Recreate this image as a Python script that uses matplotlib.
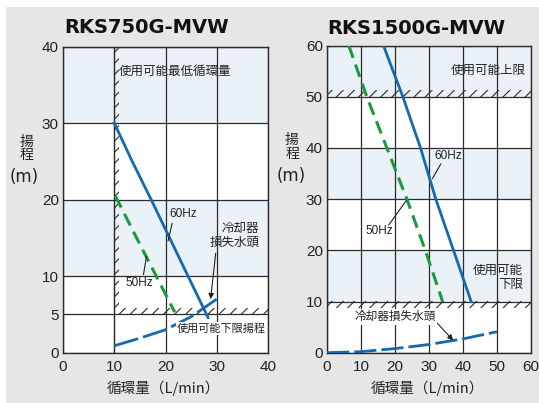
import matplotlib
matplotlib.use('Agg')
import matplotlib.pyplot as plt
from matplotlib.patches import Rectangle

W, H = 539, 403
plt.rcParams['font.family'] = ['Liberation Sans', 'Noto Sans CJK JP']
plt.rcParams['hatch.linewidth'] = 0.8

# ---------------- data ----------------
left_title = "RKS750G-MVW"
right_title = "RKS1500G-MVW"

l_flow_60 = [10, 13.5, 17.2, 20.8, 24.4, 28.3]
l_head_60 = [30, 25, 20, 15, 10, 4.6]
l_flow_50 = [10.2, 14.2, 18.2, 21.8]
l_head_50 = [20.5, 15.2, 10, 5.3]
l_flow_loss = [10, 15, 20, 25, 30]
l_head_loss = [0.9, 1.9, 3.0, 4.7, 7.0]
l_xticks = [0, 10, 20, 30, 40]
l_yticks = [0, 5, 10, 20, 30, 40]
l_bands = [(10, 20), (30, 40)]
l_min_flow = 10
l_min_head = 5

r_flow_60 = [16.6, 22.3, 27.5, 32.0, 37.2, 42.4]
r_head_60 = [60, 50, 40, 30, 20, 10]
r_flow_50 = [6.4, 11.7, 17.6, 23.5, 28.9, 34.0]
r_head_50 = [60, 50, 40, 30, 20, 10]
r_flow_loss = [0, 10, 20, 30, 40, 50]
r_head_loss = [0, 0.2, 0.8, 1.6, 2.7, 4.1]
r_xticks = [0, 10, 20, 30, 40, 50, 60]
r_yticks = [0, 10, 20, 30, 40, 50, 60]
r_bands = [(10, 20), (30, 40), (50, 60)]
r_max_head = 50
r_min_head = 10

xlabel = "循環量（L/min）"
ylabel_chars = ["揚", "程"]
ylabel_unit = "(m)"

BLUE = '#1569b0'
GREEN = '#1a9a3f'
BAND = '#eaf2f7'
BG = '#e6e6e6'
DARK = '#2b2b2b'
CJK = ['Noto Sans CJK JP', 'DejaVu Sans']

def fx(px):
    return px / W

def fy(py):
    return 1 - py / H

fig = plt.figure(figsize=(W / 100, H / 100), dpi=100)
fig.patch.set_facecolor('white')
fig.patches.append(Rectangle((fx(6), 0), 1, fy(7), transform=fig.transFigure,
                             facecolor=BG, edgecolor='none', zorder=-10))

def make_axes(l, t, r, b):
    return fig.add_axes([fx(l), fy(b), fx(r) - fx(l), fy(t) - fy(b)])

axL = make_axes(63, 46.5, 268, 352.7)
axR = make_axes(327, 45.5, 531, 352.7)

def style(ax, xt, yt, bands):
    ax.set_facecolor('white')
    ax.set_xlim(xt[0], xt[-1])
    ax.set_ylim(yt[0], yt[-1])
    ax.set_xticks(xt)
    ax.set_yticks(yt)
    for b0, b1 in bands:
        ax.axhspan(b0, b1, color=BAND, zorder=0, lw=0)
    ax.grid(True, color=DARK, lw=0.9, zorder=1)
    ax.set_axisbelow(True)
    ax.tick_params(length=0, labelsize=11, colors='#222222')
    ax.tick_params(axis='y', pad=3)
    ax.tick_params(axis='x', pad=5)
    for s in ax.spines.values():
        s.set_color(DARK)
        s.set_linewidth(1.0)
    for lab in ax.get_xticklabels() + ax.get_yticklabels():
        lab.set_family('Liberation Sans')

style(axL, l_xticks, l_yticks, l_bands)
style(axR, r_xticks, r_yticks, r_bands)

def hatch(ax, x, y, w, h):
    ax.add_patch(Rectangle((x, y), w, h, facecolor='none', edgecolor=DARK,
                           lw=0, hatch='///', zorder=2))

# left hatches
hatch(axL, l_min_flow, l_min_head, 0.9, l_yticks[-1] - l_min_head)
axL.axvline(l_min_flow, color=DARK, lw=0.9, zorder=2)
hatch(axL, l_min_flow, l_min_head, l_xticks[-1] - l_min_flow, 0.85)
# right hatches
hatch(axR, r_xticks[0], r_max_head, r_xticks[-1], 1.27)
hatch(axR, r_xticks[0], r_min_head - 1.27, r_xticks[-1], 1.27)

# curves
axL.plot(l_flow_60, l_head_60, color=BLUE, lw=2, zorder=5)
axL.plot(l_flow_50, l_head_50, color=GREEN, lw=2.2, ls=(0, (4.3, 2.3)), zorder=5)
axL.plot(l_flow_loss, l_head_loss, color=BLUE, lw=2, ls=(0, (9, 1.8)), zorder=5)

axR.plot(r_flow_60, r_head_60, color=BLUE, lw=2, zorder=5)
axR.plot(r_flow_50, r_head_50, color=GREEN, lw=2.2, ls=(0, (4.3, 2.3)), zorder=5)
axR.plot(r_flow_loss, r_head_loss, color=BLUE, lw=2, ls=(0, (8, 1.8)), zorder=5)

def lead(ax, p0, p1, arrow=False):
    ax.annotate('', xy=p1, xytext=p0,
                arrowprops=dict(arrowstyle='-|>' if arrow else '-', color='#222222',
                                lw=0.8, mutation_scale=8, shrinkA=0, shrinkB=0),
                zorder=6)

def txt(ax, x, y, s, size=9, ha='center', box=False, font=CJK, ls=1.1):
    kw = {}
    if box:
        kw['bbox'] = dict(facecolor='white', edgecolor='none', pad=1.0)
    ax.text(x, y, s, fontsize=size, ha=ha, va='center', family=font,
            color='#222222', zorder=7, linespacing=ls, **kw)

# left annotations
txt(axL, 10.9, 36.8, "使用可能最低循環量", size=9, ha='left')
txt(axL, 23.5, 18.1, "60Hz", size=8.5, font=['Liberation Sans'])
lead(axL, (21.3, 16.9), (20.5, 14.6))
txt(axL, 14.9, 9.1, "50Hz", size=8.5, font=['Liberation Sans'])
lead(axL, (15.7, 10.2), (16.3, 12.6))
txt(axL, 38.3, 15.3, "冷却器\n損失水頭", size=9, ha='right')
lead(axL, (29.8, 13.0), (28.8, 7.0), arrow=True)
txt(axL, 39.6, 3.2, "使用可能下限揚程", size=8, ha='right', box=True)

# right annotations
txt(axR, 58.5, 55.1, "使用可能上限", size=9, ha='right')
txt(axR, 35.6, 38.4, "60Hz", size=8.5, font=['Liberation Sans'])
lead(axR, (33.5, 36.9), (31.0, 34.0))
txt(axR, 15.5, 23.8, "50Hz", size=8.5, font=['Liberation Sans'])
lead(axR, (18.1, 24.9), (23.3, 29.7))
txt(axR, 57.6, 14.75, "使用可能\n下限", size=9, ha='right')
txt(axR, 20, 7.0, "冷却器損失水頭", size=8.4, box=True)
lead(axR, (32.4, 5.8), (37.1, 2.4), arrow=True)

# titles
fig.text(fx(64), fy(33.3), left_title, fontsize=14, fontweight='bold',
         family='DejaVu Sans', ha='left', va='baseline', color='#111111')
fig.text(fx(327), fy(34), right_title, fontsize=14, fontweight='bold',
         family='DejaVu Sans', ha='left', va='baseline', color='#111111')

# axis labels
for cx, cy0, cy1, ux, uy in [(27, 141.5, 155, 24, 176.5), (292, 140, 154, 291, 176)]:
    fig.text(fx(cx), fy(cy0), ylabel_chars[0], fontsize=10, family=CJK,
             ha='center', va='center', color='#222222')
    fig.text(fx(cx), fy(cy1), ylabel_chars[1], fontsize=10, family=CJK,
             ha='center', va='center', color='#222222')
    fig.text(fx(ux), fy(uy), ylabel_unit, fontsize=12, family='DejaVu Sans',
             ha='center', va='center', color='#222222')

fig.text(fx(163), fy(388), xlabel, fontsize=10.5, family=CJK,
         ha='center', va='center', color='#222222')
fig.text(fx(427), fy(388), xlabel, fontsize=10.5, family=CJK,
         ha='center', va='center', color='#222222')

fig.savefig('out.png', dpi=100, facecolor=fig.get_facecolor())
